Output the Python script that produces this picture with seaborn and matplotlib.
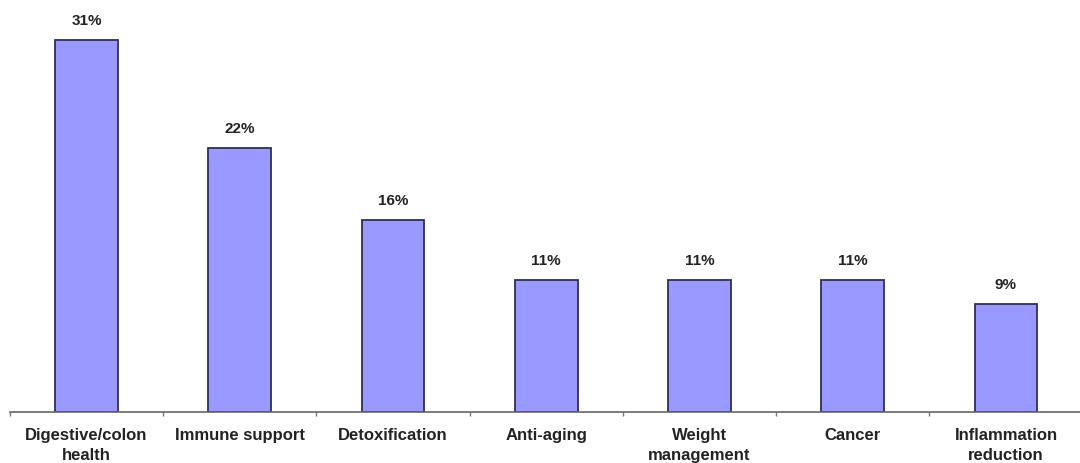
import matplotlib
matplotlib.use("Agg")
import matplotlib.pyplot as plt
import seaborn as sns
import pandas as pd
from matplotlib.ticker import FixedLocator

categories = ["Digestive/colon\nhealth", "Immune support", "Detoxification",
              "Anti-aging", "Weight\nmanagement", "Cancer", "Inflammation\nreduction"]
shares = [31, 22, 16, 11, 11, 11, 9]
value_labels = ["31%", "22%", "16%", "11%", "11%", "11%", "9%"]

df = pd.DataFrame({"category": categories, "share": shares})

sns.set_theme(style="white")
plt.rcParams["font.family"] = ["Liberation Sans", "DejaVu Sans"]

fig = plt.figure(figsize=(10.8, 4.64), dpi=100)
ax = fig.add_axes([0.0092, 0.1099, 0.9932, 0.8901])

sns.barplot(data=df, x="category", y="share", ax=ax, color="#9999FF",
            saturation=1, width=0.41, edgecolor="#2E2E5C", linewidth=1.3)

for i, (v, lab) in enumerate(zip(shares, value_labels)):
    ax.text(i, v + 1.1, lab, ha="center", va="bottom", fontsize=11,
            fontweight="bold", color="#222222")

ax.set_xlim(-0.5, 6.5)
ax.set_ylim(0, 34.4)
for side in ["top", "right", "left"]:
    ax.spines[side].set_visible(False)
ax.spines["bottom"].set_color("#666666")
ax.spines["bottom"].set_linewidth(1.2)

ax.set_yticks([])
ax.set_xlabel("")
ax.set_ylabel("")
ax.xaxis.set_minor_locator(FixedLocator([i - 0.5 for i in range(8)]))
ax.tick_params(axis="x", which="major", length=0, pad=11, labelsize=12,
               labelcolor="#222222")
ax.tick_params(axis="x", which="minor", bottom=True, length=3, width=1.0,
               color="#777777", direction="out")
for t in ax.get_xticklabels():
    t.set_fontweight("bold")
    t.set_linespacing(1.4)

fig.savefig("out.png", dpi=100, facecolor="white")
